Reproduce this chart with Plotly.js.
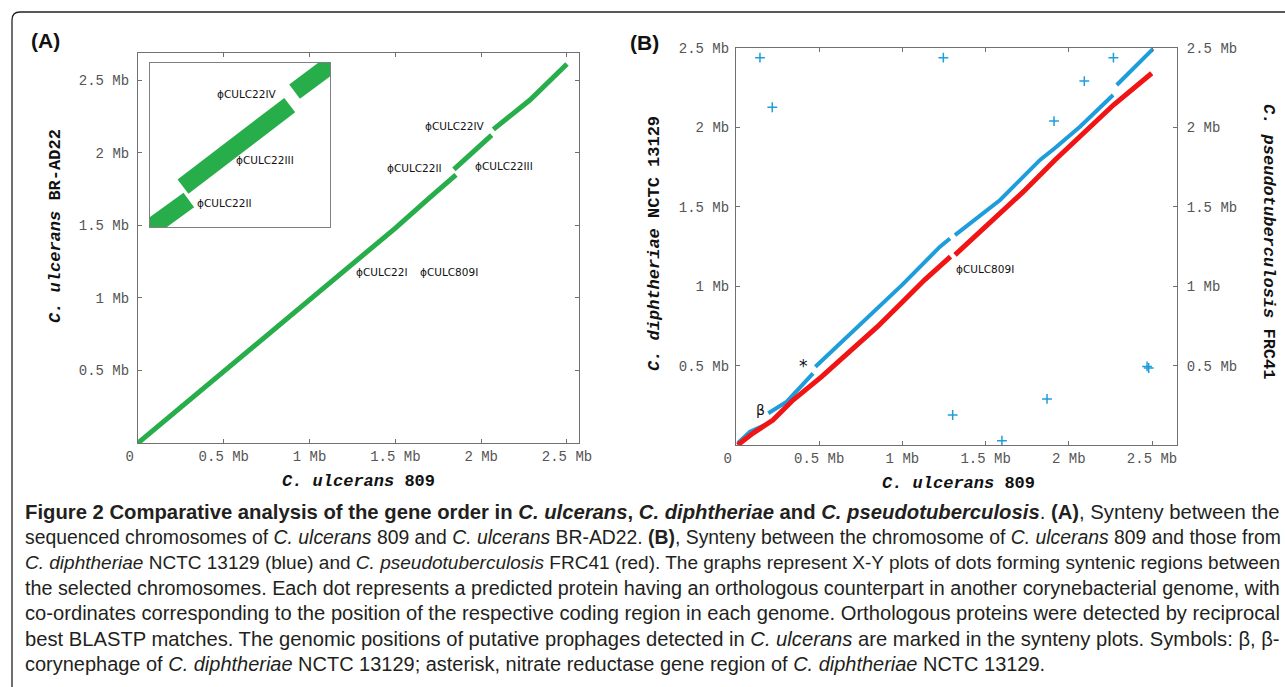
<!DOCTYPE html>
<html><head><meta charset="utf-8">
<script src="https://cdn.plot.ly/plotly-3.0.1.min.js"></script>
<style>html,body{margin:0;padding:0;background:#fff}#chart{width:1285px;height:687px}</style>
</head><body><div id="chart"></div>
<script>
// ---------------- DATA (Mb) ----------------
// Panel A: C. ulcerans 809 (x) vs C. ulcerans BR-AD22 (y); null = break in synteny
const a809   = [0, 0.5, 1.0, 1.5, 1.7, 1.853, null, 1.841, 1.925, 1.945, 2.061, null, 2.071, 2.284, 2.5];
const aBRAD22= [0, 0.49, 0.99, 1.48, 1.69, 1.846, null, 1.885, 1.978, 1.998, 2.121, null, 2.160, 2.362, 2.61];

// Panel B: C. ulcerans 809 (x) vs C. diphtheriae NCTC 13129 (blue, left axis)
const b809Blue = [0.012, 0.084, 0.174, null, 0.194, 0.305, 0.463, null, 0.477, 0.644, 0.850, 1.0, 1.226, 1.286, null, 1.316, 1.587, 1.827, 1.917, 2.067, 2.266, null, 2.288, 2.506];
const bDiph    = [0.013, 0.084, 0.126, null, 0.200, 0.273, 0.451, null, 0.493, 0.660, 0.860, 1.010, 1.249, 1.300, null, 1.322, 1.543, 1.795, 1.870, 2.004, 2.204, null, 2.267, 2.494];
// isolated blue dots
const out809  = [0.144, 0.218, 1.246, 1.911, 2.093, 2.268, 1.302, 1.598, 1.869, 2.470, 2.480];
const outDiph = [2.439, 2.127, 2.439, 2.040, 2.292, 2.439, 0.189, 0.027, 0.290, 0.495, 0.485];
// C. ulcerans 809 (x) vs C. pseudotuberculosis FRC41 (red, right axis)
const b809Red = [0.010, 0.103, 0.222, 0.343, 0.515, 0.660, 0.850, 1.000, 1.134, 1.289, null, 1.316, 1.727, 1.917, 2.268, 2.498];
const bFRC41  = [0.000, 0.075, 0.157, 0.283, 0.430, 0.565, 0.745, 0.900, 1.040, 1.186, null, 1.197, 1.595, 1.795, 2.141, 2.341];

// Tick labels
const tickVals = [0, 0.5, 1, 1.5, 2, 2.5];
const tickText = ['0\u00a0\u00a0', '0.5 Mb', '1 Mb', '1.5 Mb', '2 Mb', '2.5 Mb'];
const yTickVals = [0.5, 1, 1.5, 2, 2.5];
const yTickText = ['0.5 Mb', '1 Mb', '1.5 Mb', '2 Mb', '2.5 Mb'];

// Prophage labels
const phageA  = ['ϕCULC22IV', 'ϕCULC22II', 'ϕCULC22III', 'ϕCULC22I', 'ϕCULC809I'];
const phageAX = [1.847, 1.614, 2.133, 1.422, 1.812];
const phageAY = [2.183, 1.894, 1.908, 1.178, 1.178];
const phageIn  = ['ϕCULC22IV', 'ϕCULC22III', 'ϕCULC22II'];
const phageInX = [1.973, 2.010, 1.927];
const phageInY = [2.154, 1.962, 1.838];
const marksB  = ['ϕCULC809I', 'β', '*'];
const marksBX = [1.496, 0.147, 0.403];
const marksBY = [1.108, 0.220, 0.497];

const captionLines = [
  '<b>Figure 2 Comparative analysis of the gene order in <i>C. ulcerans</i>, <i>C. diphtheriae</i> and <i>C. pseudotuberculosis</i></b>. <b>(A)</b>, Synteny between the',
  'sequenced chromosomes of <i>C. ulcerans</i> 809 and <i>C. ulcerans</i> BR-AD22. <b>(B)</b>, Synteny between the chromosome of <i>C. ulcerans</i> 809 and those from',
  '<i>C. diphtheriae</i> NCTC 13129 (blue) and <i>C. pseudotuberculosis</i> FRC41 (red). The graphs represent X-Y plots of dots forming syntenic regions between',
  'the selected chromosomes. Each dot represents a predicted protein having an orthologous counterpart in another corynebacterial genome, with',
  'co-ordinates corresponding to the position of the respective coding region in each genome. Orthologous proteins were detected by reciprocal',
  'best BLASTP matches. The genomic positions of putative prophages detected in <i>C. ulcerans</i> are marked in the synteny plots. Symbols: β, β-',
  'corynephage of <i>C. diphtheriae</i> NCTC 13129; asterisk, nitrate reductase gene region of <i>C. diphtheriae</i> NCTC 13129.'
];

// ---------------- STYLE ----------------
const W = 1285, H = 687;
const MONO = '"Liberation Mono", "Courier New", monospace';
const SANS = '"DejaVu Sans", Verdana, sans-serif';
const CAP = '"Liberation Sans", Arial, sans-serif';
const GREEN = '#27ae4b', BLUE = '#1f9ddb', RED = '#f01414';
const px = v => v / W, py = v => 1 - v / H;

function axis(extra) {
  return Object.assign({
    showgrid: false, zeroline: false, showline: true, linecolor: '#707070', linewidth: 1,
    ticks: 'inside', ticklen: 4, tickcolor: '#707070', tickmode: 'array',
    tickfont: {family: MONO, size: 14, color: '#555'}, fixedrange: true
  }, extra);
}

const traces = [
  {x: a809, y: aBRAD22, xaxis: 'x', yaxis: 'y', mode: 'lines', line: {color: GREEN, width: 5}, connectgaps: false, hoverinfo: 'skip'},
  {x: a809, y: aBRAD22, xaxis: 'x4', yaxis: 'y4', mode: 'lines', line: {color: GREEN, width: 18}, connectgaps: false, hoverinfo: 'skip'},
  {x: b809Red, y: bFRC41, xaxis: 'x2', yaxis: 'y3', mode: 'lines', line: {color: RED, width: 5}, connectgaps: false, hoverinfo: 'skip'},
  {x: b809Blue, y: bDiph, xaxis: 'x2', yaxis: 'y2', mode: 'lines', line: {color: BLUE, width: 4}, connectgaps: false, hoverinfo: 'skip'},
  {x: out809, y: outDiph, xaxis: 'x2', yaxis: 'y2', mode: 'markers',
   marker: {symbol: 'cross-thin', size: 7, line: {color: BLUE, width: 1.5}, color: BLUE}, hoverinfo: 'skip'}
];

const lab = {showarrow: false, xanchor: 'center', yanchor: 'middle'};
const annotations = [];
phageA.forEach((t, i) => annotations.push(Object.assign({text: t, x: phageAX[i], y: phageAY[i], xref: 'x', yref: 'y', font: {family: SANS, size: 10.5, color: '#111'}}, lab)));
phageIn.forEach((t, i) => annotations.push(Object.assign({text: t, x: phageInX[i], y: phageInY[i], xref: 'x4', yref: 'y4', font: {family: SANS, size: 10.5, color: '#111'}}, lab)));
marksB.forEach((t, i) => annotations.push(Object.assign({text: t, x: marksBX[i], y: marksBY[i], xref: 'x2', yref: 'y2',
  font: {family: SANS, size: [10.5, 14, 17][i], color: '#111'}}, lab)));

// axis titles & panel letters (paper = whole page, margins are 0)
const titleFont = {family: MONO, size: 17, color: '#111'};
const P = {xref: 'paper', yref: 'paper'};
[
  {text: '<b><i>C. ulcerans</i> 809</b>', x: px(358), y: py(481), font: titleFont},
  {text: '<b><i>C. ulcerans</i> BR-AD22</b>', x: px(55), y: py(226), textangle: -90, font: titleFont},
  {text: '<b><i>C. ulcerans</i> 809</b>', x: px(958), y: py(483), font: titleFont},
  {text: '<b><i>C. diphtheriae</i> NCTC 13129</b>', x: px(655), y: py(244), textangle: -90, font: titleFont},
  {text: '<b><i>C. pseudotuberculosis</i> FRC41</b>', x: px(1268), y: py(241), textangle: 90, font: titleFont},
  {text: '<b>(A)</b>', x: px(45), y: py(41), font: {family: CAP, size: 21, color: '#111'}},
  {text: '<b>(B)</b>', x: px(644), y: py(43), font: {family: CAP, size: 21, color: '#111'}}
].forEach(a => annotations.push(Object.assign(a, P, lab)));

// caption: each justified line fitted to the text block width (23 → 1279 px)
const ctx = document.createElement('canvas').getContext('2d');
function measure(html, size) {
  let b = false, it = false, w = 0;
  html.split(/(<\/?[bi]>)/).forEach(p => {
    if (p === '<b>') b = true; else if (p === '</b>') b = false;
    else if (p === '<i>') it = true; else if (p === '</i>') it = false;
    else if (p) { ctx.font = (it ? 'italic ' : '') + (b ? 'bold ' : '') + size + 'px ' + CAP; w += ctx.measureText(p).width; }
  });
  return w;
}
const fits = captionLines.slice(0, 6).map(t => 20 * (1279 - 23) / measure(t, 20));
const sorted = fits.slice().sort((a, b) => a - b);
const med = (sorted[2] + sorted[3]) / 2;
captionLines.forEach((t, i) => {
  const s = i < 6 ? Math.min(fits[i], med * 1.03) : med;
  annotations.push({text: t, x: px(23), y: py(512 + 25.3 * i), xref: 'paper', yref: 'paper', xanchor: 'left', yanchor: 'middle',
    showarrow: false, font: {family: CAP, size: Math.max(12, Math.min(22, s)), color: '#231f20'}});
});

const layout = {
  width: W, height: H, margin: {l: 0, r: 0, t: 0, b: 0}, paper_bgcolor: '#fff', plot_bgcolor: '#fff', showlegend: false,
  xaxis: axis({domain: [px(138), px(579)], range: [0, 2.57], anchor: 'y', mirror: 'ticks', tickvals: tickVals, ticktext: tickText, ticklabelstandoff: 0}),
  yaxis: axis({domain: [py(443), py(52.7)], range: [0, 2.688], anchor: 'x', mirror: 'ticks', tickvals: yTickVals, ticktext: yTickText, ticklabelstandoff: 5}),
  xaxis2: axis({domain: [px(736), px(1177)], range: [0, 2.65], anchor: 'y2', mirror: 'ticks', tickvals: tickVals, ticktext: tickText, ticklabelstandoff: 0}),
  yaxis2: axis({domain: [py(445), py(48)], range: [0, 2.5], anchor: 'x2', tickvals: yTickVals, ticktext: yTickText, ticklabelstandoff: 3}),
  yaxis3: axis({overlaying: 'y2', side: 'right', anchor: 'x2', range: [0, 2.5], tickvals: yTickVals, ticktext: yTickText, ticklabelstandoff: 6}),
  xaxis4: axis({domain: [px(150), px(330)], range: [1.773, 2.144], anchor: 'y4', mirror: true, ticks: '', showticklabels: false, linecolor: '#808080'}),
  yaxis4: axis({domain: [py(227), py(63)], range: [1.768, 2.243], anchor: 'x4', mirror: true, ticks: '', showticklabels: false, linecolor: '#808080'}),
  annotations: annotations,
  shapes: [{type: 'path', xref: 'paper', yref: 'paper',
    path: `M ${px(12)},0 L ${px(12)},${py(20)} Q ${px(12)},${py(12)} ${px(20)},${py(12)} L 1.01,${py(12)}`,
    line: {color: '#222', width: 1.3}}]
};

Plotly.newPlot('chart', traces, layout, {displayModeBar: false, staticPlot: true});
</script>
</body></html>
